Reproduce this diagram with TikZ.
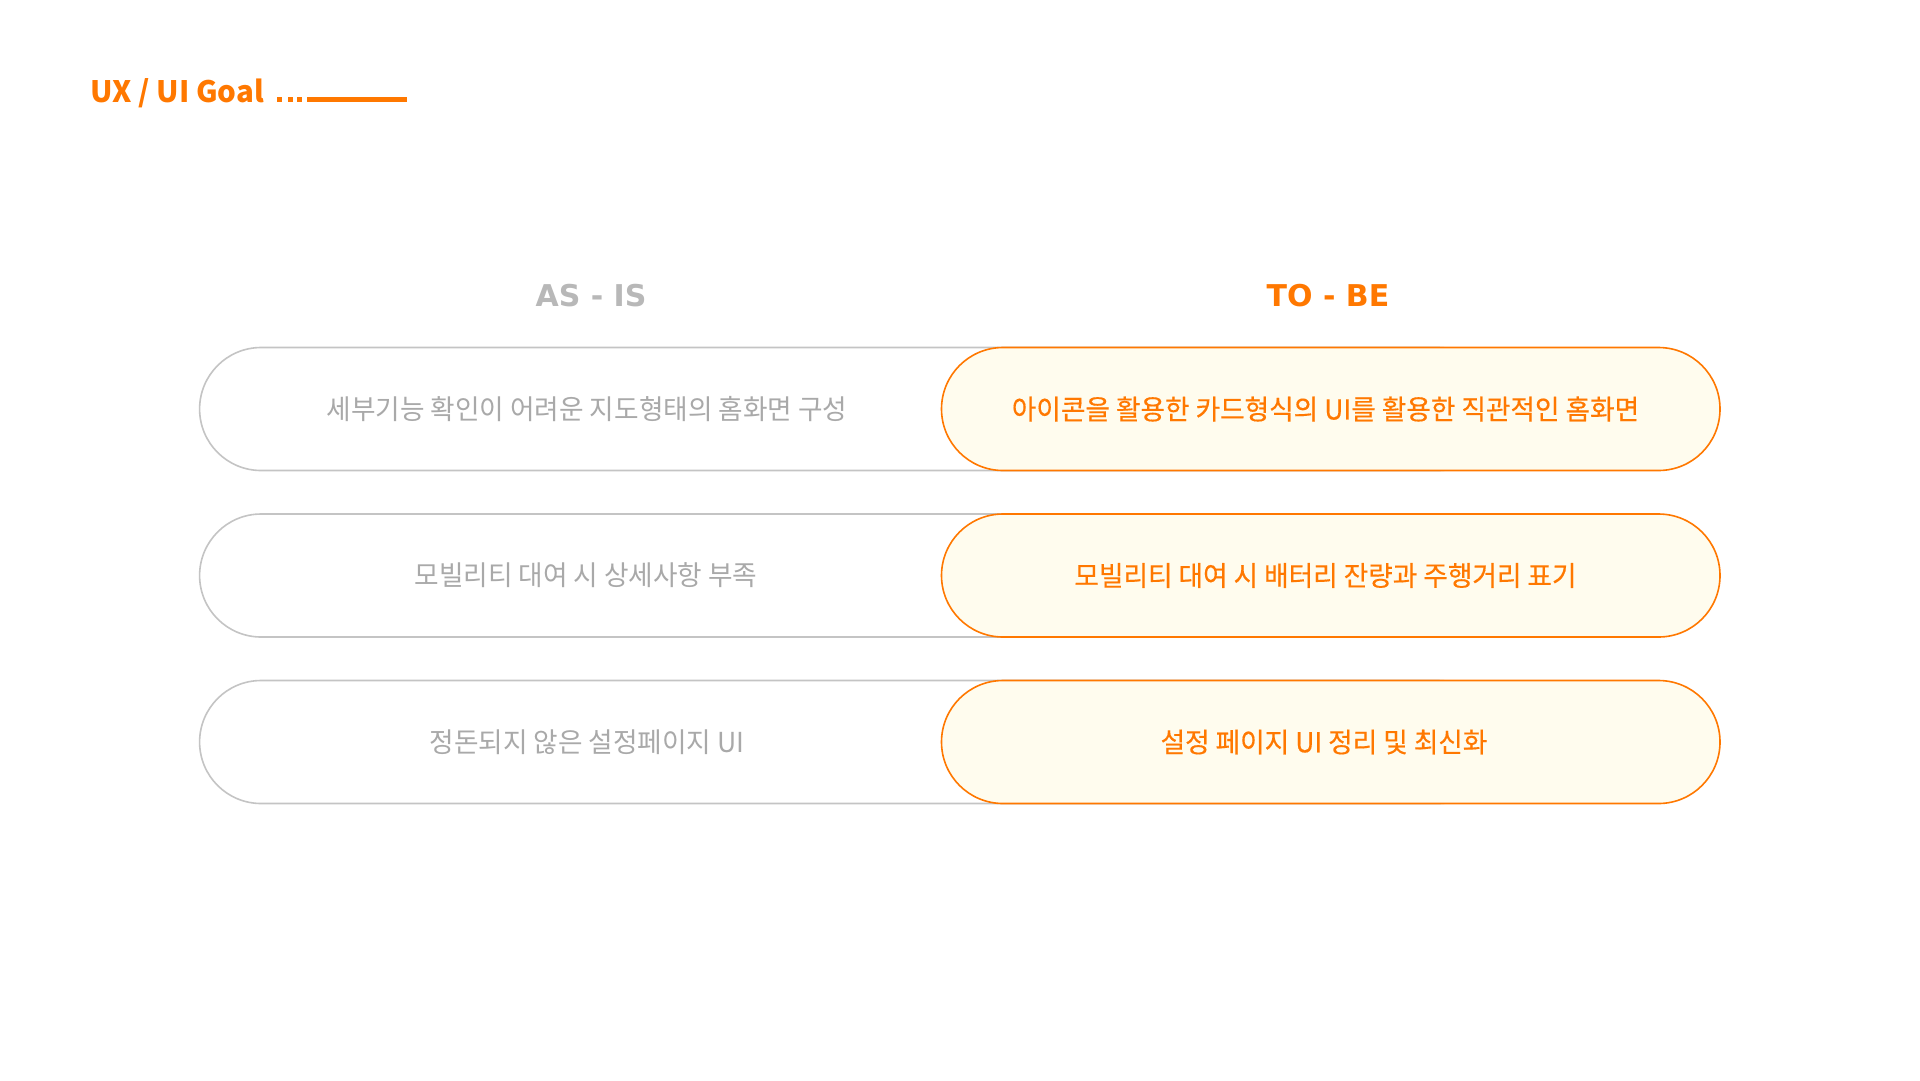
\documentclass[tikz,border=0pt]{standalone}
\usepackage{fontspec}
\usetikzlibrary{shapes.misc}
\newfontfamily\krfont{Noto Sans CJK KR}
\newfontfamily\krwide[FakeStretch=0.97]{Noto Sans CJK KR}
\newfontfamily\krmed[FakeStretch=0.97,FakeBold=0.4]{Noto Sans CJK KR}
\newfontfamily\headfont{DejaVu Sans}
\definecolor{brandorange}{HTML}{FF7800}
\definecolor{creamfill}{HTML}{FFFCEE}
\definecolor{pillgray}{HTML}{C4C4C4}
\definecolor{textgray}{HTML}{A9A9A9}
\definecolor{headgray}{HTML}{B8B8B8}
\tikzset{
  aspill/.style={rounded rectangle, draw=pillgray, line width=1.6pt, fill=white,
    minimum height=123pt, minimum width=1300pt, inner sep=0pt},
  tobepill/.style={rounded rectangle, draw=brandorange, line width=1.6pt, fill=creamfill,
    minimum height=123pt, minimum width=778.5pt, inner sep=0pt},
  astext/.style={inner sep=0pt, text=textgray, font=\krwide\fontsize{27.5pt}{32pt}\selectfont},
  tobetext/.style={inner sep=0pt, text=brandorange, font=\krmed\fontsize{27.5pt}{32pt}\selectfont},
  headtext/.style={inner sep=0pt, anchor=base, font=\headfont\bfseries\fontsize{30pt}{36pt}\selectfont},
  titletext/.style={anchor=base west, inner sep=0pt, text=brandorange,
    font=\krfont\bfseries\fontsize{29.5pt}{36pt}\selectfont},
  leaderdot/.style={fill=brandorange},
}
\begin{document}
\begin{tikzpicture}[x=1pt,y=-1pt]
\fill[white] (0,0) rectangle (1920,1080);
\useasboundingbox (0,0) rectangle (1920,1080);

% title
\node[titletext] (title) at (90,102) {UX / UI Goal};
\fill[leaderdot] (276.7,96.8) rectangle (281.7,101.8);
\fill[leaderdot] (287.5,96.8) rectangle (292.5,101.8);
\fill[leaderdot] (297.3,96.8) rectangle (302.3,101.8);
\coordinate (lineA) at (307,99.4);
\coordinate (lineB) at (407,99.4);
\draw[brandorange, line width=4.8pt] (lineA) -- (lineB);

% headings
\node[headtext, text=headgray] (ashead) at (591,306.5) {AS - IS};
\node[headtext, text=brandorange] (tobehead) at (1328,306.5) {TO - BE};

% row 1
\node[aspill] (as1) at (849.6,409) {};
\node[tobepill] (tobe1) at (1330.75,409) {};
\node[astext] (ast1) at (587,409) {세부기능 확인이 어려운 지도형태의 홈화면 구성};
\node[tobetext] (tbt1) at (1325.5,409) {아이콘을 활용한 카드형식의 UI를 활용한 직관적인 홈화면};

% row 2
\node[aspill] (as2) at (849.6,575.5) {};
\node[tobepill] (tobe2) at (1330.75,575.5) {};
\node[astext] (ast2) at (586,575.5) {모빌리티 대여 시 상세사항 부족};
\node[tobetext] (tbt2) at (1325.5,575.5) {모빌리티 대여 시 배터리 잔량과 주행거리 표기};

% row 3
\node[aspill] (as3) at (849.6,742) {};
\node[tobepill] (tobe3) at (1330.75,742) {};
\node[astext] (ast3) at (587,742) {정돈되지 않은 설정페이지 UI};
\node[tobetext] (tbt3) at (1324,742) {설정 페이지 UI 정리 및 최신화};
\end{tikzpicture}
\end{document}
